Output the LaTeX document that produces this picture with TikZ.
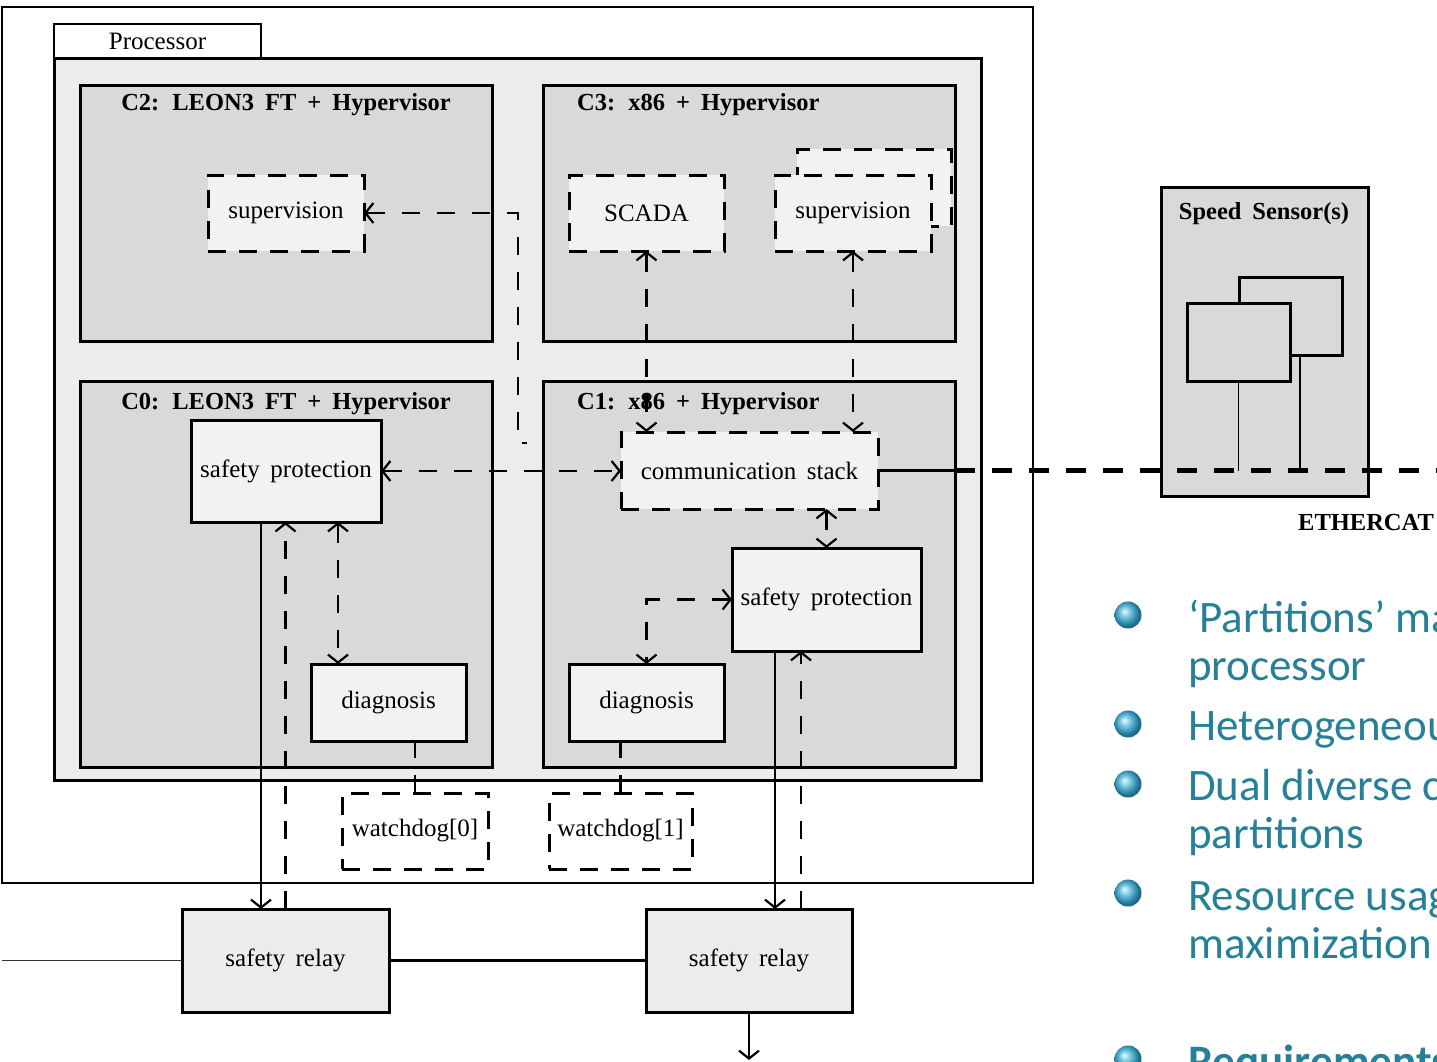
\documentclass[tikz,border=0pt]{standalone}
\usepackage{fontspec}
\setmainfont{Liberation Serif}
\newfontfamily\bulletfont{Carlito}
\usetikzlibrary{arrows.meta,calc,shadings}
\definecolor{procfill}{RGB}{236,236,236}
\definecolor{cfill}{RGB}{217,217,217}
\definecolor{infill}{RGB}{242,242,242}
\definecolor{bultext}{RGB}{38,128,152}
\definecolor{ballA}{RGB}{190,234,246}
\definecolor{ballB}{RGB}{88,180,210}
\definecolor{ballC}{RGB}{28,110,140}
\pgfdeclareradialshading{bulshade}{\pgfpoint{-7bp}{7bp}}{color(0bp)=(white); color(3bp)=(ballA); color(13bp)=(ballB); color(24bp)=(ballC); color(50bp)=(ballC)}
\tikzset{
  txt/.style={font={\fontsize{25}{30}\selectfont\spaceskip=10.5pt\relax}},
  title/.style={inner sep=0pt, font={\fontsize{24.5}{29}\selectfont\bfseries\spaceskip=11pt\relax}},
  boxbase/.style={anchor=north west, draw, line width=3pt, inner sep=0pt, outer sep=0pt, txt},
  solidbox/.style={boxbase, fill=infill},
  dashbox/.style={boxbase, fill=infill, dash pattern=on 18pt off 13pt},
  cbox/.style={boxbase, fill=cfill},
  sz/.style 2 args={minimum width=#1pt, minimum height=#2pt},
  conn/.style={line width=2.2pt, dash pattern=on 18pt off 17pt},
  wire/.style={line width=2.2pt},
  bul/.style={anchor=base west, inner sep=0pt, text=bultext, font={\bulletfont\fontsize{45}{54}\selectfont}},
  bulb/.style={anchor=base west, inner sep=0pt, text=bultext, font={\bulletfont\fontsize{45}{54}\selectfont\bfseries}},
  ball/.style={shading=bulshade},
  >={Straight Barb[length=8pt,width=20pt,line width=2.2pt]}
}
\begin{document}
\begin{tikzpicture}[x=1pt,y=-1pt]
\useasboundingbox (0,0) rectangle (1437,1061);
\clip (0,0) rectangle (1437,1061);
\fill[white] (0,0) rectangle (1437,1061);

% outer frame and processor
\node[boxbase, line width=2.5pt, fill=white, sz={1031}{876}] (outer) at (2,7) {};
\node[boxbase, line width=2.5pt, fill=white, sz={207}{34}] (tab) at (54,24) {Processor};
\node[boxbase, fill=procfill, sz={927}{722}] (proc) at (54,58) {};

% cores
\node[cbox, sz={412}{256}] (c2) at (80,85) {};
\node[cbox, sz={412}{256}] (c3) at (543,85) {};
\node[cbox, sz={412}{386}] (c0) at (80,381) {};
\node[cbox, sz={412}{386}] (c1) at (543,381) {};
\node[title, anchor=base] (c2t) at (286,110) {C2: LEON3 FT + Hypervisor};
\node[title, anchor=base west] (c3t) at (577,110) {C3: x86 + Hypervisor};
\node[title, anchor=base] (c0t) at (286,409) {C0: LEON3 FT + Hypervisor};
\node[title, anchor=base west] (c1t) at (577,409) {C1: x86 + Hypervisor};

% inner blocks
\node[dashbox, sz={156}{76}] (sup2) at (208,175) {supervision};
\node[dashbox, sz={155}{76}] (scada) at (569,175) {SCADA};
\node[dashbox, sz={154}{77}] (sup3b) at (797,149) {};
\node[dashbox, sz={156}{76}] (sup3) at (775,175) {supervision};
\node[solidbox, sz={190}{102}] (sp0) at (191,420) {safety protection};
\node[solidbox, sz={155}{77}] (diag0) at (311,664) {diagnosis};
\node[dashbox, sz={257}{77}] (comm) at (621,432) {communication stack};
\node[solidbox, sz={189}{103}] (sp1) at (732,548) {safety protection};
\node[solidbox, sz={155}{77}] (diag1) at (569,664) {diagnosis};
\node[dashbox, fill=white, sz={146}{76}] (wd0) at (342,793) {watchdog[0]};
\node[dashbox, fill=white, sz={143}{76}] (wd1) at (549,793) {watchdog[1]};
\node[boxbase, fill=procfill, sz={207}{103}] (relay1) at (182,909) {safety relay};
\node[boxbase, fill=procfill, sz={206}{103}] (relay2) at (646,909) {safety relay};

% speed sensors
\node[cbox, sz={207}{309}] (speed) at (1161,187) {};
\node[title, anchor=base] (speedt) at (1264,219) {Speed Sensor(s)};
\node[cbox, sz={103}{78}] (sb) at (1239,277) {};
\node[cbox, sz={103}{78}] (sf) at (1187,303) {};
\node[title, anchor=base west] (eth) at (1298,530) {ETHERCAT};

% connectors
\coordinate (c2bend) at (518,443);
\coordinate (c2end) at (527,443);
\draw[conn,<-] (sup2.east) -- (sup2.east -| c2bend) -- (c2bend) -- (c2end);
\draw[conn,<->] (sp0.east) -- (sp0.east -| comm.west);
\draw[conn,<->] (scada.south) -- (scada.south |- comm.north);
\draw[conn,<->] (sup3.south) -- (sup3.south |- comm.north);
\draw[conn,<->] (sp1.north |- comm.south) -- (sp1.north);
\draw[conn,<->] (sp1.west) -| (diag1.north);
\coordinate (sp0d) at ($(sp0.south)+(52,0)$);
\draw[conn,<->] (sp0d) -- (sp0d |- diag0.north);
\coordinate (sp0o) at ($(sp0.south)+(-25,0)$);
\draw[wire,->] (sp0o) -- (sp0o |- relay1.north);
\draw[conn,->] (relay1.north) -- (relay1.north |- sp0.south);
\draw[conn] (wd0.north) -- (wd0.north |- diag0.south);
\draw[conn] (wd1.north) -- (wd1.north |- diag1.south);
\coordinate (sp1o) at ($(sp1.south)+(-51.5,0)$);
\draw[wire,->] (sp1o) -- (sp1o |- relay2.north);
\coordinate (sp1i) at ($(sp1.south)+(-25.5,0)$);
\draw[conn,->] (sp1i |- relay2.north) -- (sp1i);
\draw[wire] (relay1.east) -- (relay2.west);
\coordinate (leftend) at (2,960.5);
\draw[line width=1.8pt, black!80] (leftend) -- (relay1.west);
\coordinate (downend) at (749,1060);
\draw[wire,->] (relay2.south) -- (relay2.south |- downend);

% sensor drops and ethercat bus
\coordinate (ecA) at (955,470.5);
\coordinate (ecB) at (1437,470.5);
\draw[line width=1.8pt] (sf.south) -- (sf.south |- ecA);
\coordinate (sbo) at ($(sb.south)+(9.5,0)$);
\draw[line width=2.8pt] (sbo) -- (sbo |- ecA);
\draw[line width=3.5pt] (comm.east) -- (ecA);
\draw[line width=5.5pt, dash pattern=on 20pt off 17pt] (ecA) -- (ecB);

% bullet list
\shade[ball] (1128,615) circle (13.5pt);
\shade[ball] (1128,724) circle (13.5pt);
\shade[ball] (1128,784) circle (13.5pt);
\shade[ball] (1128,893) circle (13.5pt);
\shade[ball] (1128,1059) circle (13.5pt);
\node[bul] (b1) at (1188,632) {‘Partitions’ ma};
\node[bul] (b1b) at (1188,680) {processor};
\node[bul] (b2) at (1188,740) {Heterogeneou};
\node[bul] (b3) at (1188,800) {Dual diverse c};
\node[bul] (b3b) at (1188,848) {partitions};
\node[bul] (b4) at (1188,910) {Resource usag};
\node[bul] (b4b) at (1188,958) {maximization};
\node[bulb] (b5) at (1188,1076) {Requirements};
\end{tikzpicture}
\end{document}
